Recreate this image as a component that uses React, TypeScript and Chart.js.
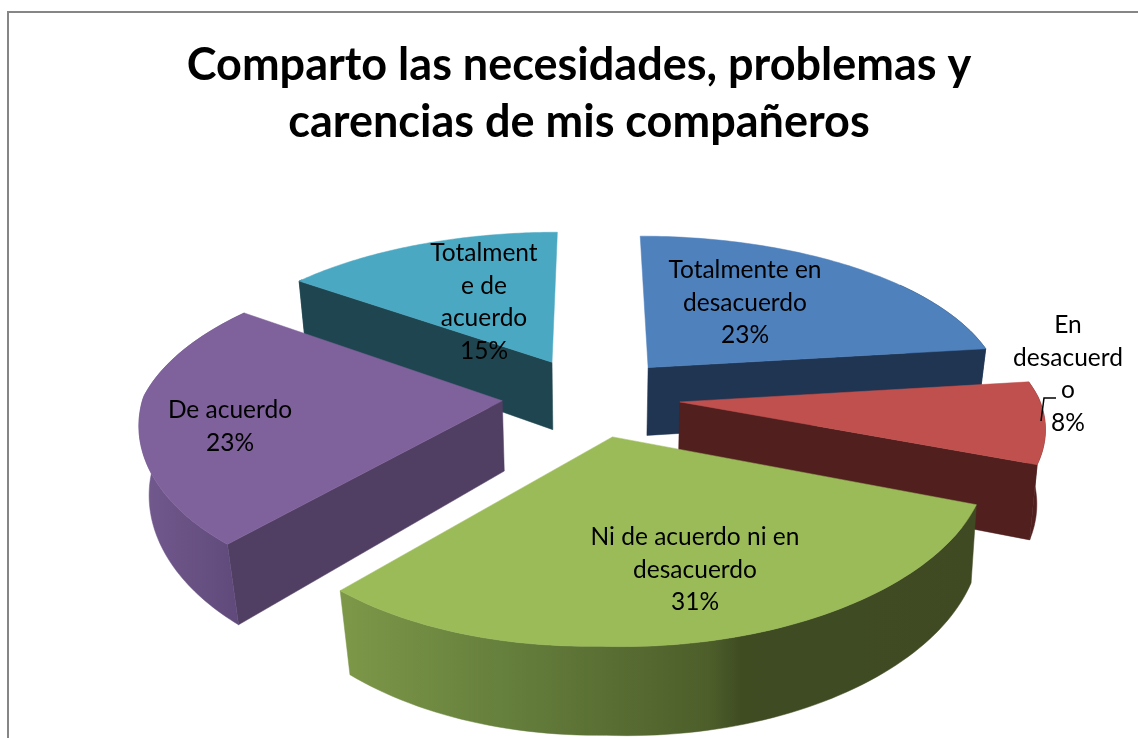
import React, { useEffect, useRef } from "react";
import { Chart, registerables } from "chart.js";

Chart.register(...registerables);

const categories = [
  "Totalmente en desacuerdo",
  "En desacuerdo",
  "Ni de acuerdo ni en desacuerdo",
  "De acuerdo",
  "Totalmente de acuerdo",
];
const percentages = [23, 8, 31, 23, 15];
const topColors = ["#4f81bd", "#c0504d", "#9bbb59", "#7f619b", "#4ba8c2"];
const faceColors = ["#1f3552", "#511f1e", "#3f4c22", "#503f63", "#1f4650"];
const wallStops: [number, string][][] = [
  [[0, "#1f3552"], [1, "#1f3552"]],
  [[0, "#511f1e"], [1, "#511f1e"]],
  [[0, "#3f4a22"], [0.37, "#3f4c22"], [0.42, "#4d5e2a"], [0.75, "#66803d"], [1, "#7d9848"]],
  [[0, "#5d4878"], [0.6, "#6a5285"], [1, "#725a90"]],
  [[0, "#1f4650"], [1, "#1f4650"]],
];
const labelLines = [
  ["Totalmente en", "desacuerdo", "23%"],
  ["En", "desacuerd", "o", "8%"],
  ["Ni de acuerdo ni en", "desacuerdo", "31%"],
  ["De acuerdo", "23%"],
  ["Totalment", "e de", "acuerdo", "15%"],
];
const titleLines = ["Comparto las necesidades, problemas y", "carencias de mis compañeros"];
const drawOrder = [4, 0, 3, 1, 2];

const CX = 591, CY = 397, KY = 0.00048, DEPTH = 70, SHRINK = 0.0003;
const labelAnchors = [[745, 270], [1068, 325], [695, 537], [230, 410], [484, 253]];

function project(X: number, Y: number, z: number) {
  const sx = 1 / (1 - Y * (Y < 0 ? 0.00046 : 0.00034));
  const sy = 1 / (1 - Y * KY);
  const tilt = Y < 0 ? 0.455 : 0.44;
  const front = Math.max(Y, 0);
  return {
    x: CX + X * sx * (1 - z * SHRINK) + front * 0.017 + z * front * 0.00018,
    y: CY + Y * tilt * sy + front * Math.max(-X, 0) * 0.00012 + z * sy,
  };
}

const pie3d = {
  id: "pie3d",
  beforeDatasetDraw(chart: any) {
    const ctx: CanvasRenderingContext2D = chart.ctx;
    const arcs = chart.getDatasetMeta(0).data;
    ctx.save();
    for (const i of drawOrder) {
      const arc = arcs[i];
      const { startAngle, endAngle, outerRadius } = arc.getProps(["startAngle", "endAngle", "outerRadius"], true);
      const R = outerRadius;
      const mid = (startAngle + endAngle) / 2;
      const off = arc.options.offset;
      const ox = Math.cos(mid) * off, oy = Math.sin(mid) * off;
      const pt = (a: number, r: number, z: number) => project(ox + Math.cos(a) * r, oy + Math.sin(a) * r, z);
      const steps = 80;
      const angles: number[] = [];
      for (let n = 0; n <= steps; n++) angles.push(startAngle + ((endAngle - startAngle) * n) / steps);

      const poly = (pts: { x: number; y: number }[], fill: any) => {
        ctx.beginPath();
        pts.forEach((p, n) => (n ? ctx.lineTo(p.x, p.y) : ctx.moveTo(p.x, p.y)));
        ctx.closePath();
        ctx.fillStyle = fill;
        ctx.fill();
        ctx.strokeStyle = fill;
        ctx.lineWidth = 0.5;
        ctx.stroke();
      };

      // radial faces that look towards the viewer
      if (-Math.cos(startAngle) > 0.01) {
        poly([pt(startAngle, 0, 0), pt(startAngle, R, 0), pt(startAngle, R, DEPTH), pt(startAngle, 0, DEPTH)], faceColors[i]);
      }
      if (Math.cos(endAngle) > 0.01) {
        poly([pt(endAngle, 0, 0), pt(endAngle, R, 0), pt(endAngle, R, DEPTH), pt(endAngle, 0, DEPTH)], faceColors[i]);
      }
      // outer rim, front part only
      const front = angles.filter((a) => Math.sin(a) > -0.6);
      if (front.length > 1) {
        const rimTop = front.map((a) => pt(a, R, 0));
        const rimBottom = front.map((a) => pt(a, R, DEPTH));
        const xs = rimTop.concat(rimBottom).map((p) => p.x);
        const grad = ctx.createLinearGradient(Math.max(...xs), 0, Math.min(...xs), 0);
        wallStops[i].forEach(([o, c]) => grad.addColorStop(o, c));
        poly(rimTop.concat(rimBottom.slice().reverse()), grad);
      }
      poly([pt(0, 0, 0), ...angles.map((a) => pt(a, R, 0))], topColors[i]);
    }

    // leader line of the small slice
    ctx.beginPath();
    ctx.moveTo(1041, 421);
    ctx.lineTo(1044, 398);
    ctx.lineTo(1056, 398);
    ctx.strokeStyle = "#000";
    ctx.lineWidth = 1.5;
    ctx.stroke();

    ctx.fillStyle = "#000";
    ctx.textAlign = "center";
    ctx.textBaseline = "middle";
    ctx.font = "24.5px Lato";
    labelLines.forEach((lines, i) => {
      lines.forEach((line, n) => {
        ctx.fillText(line, labelAnchors[i][0], labelAnchors[i][1] + n * 32.7);
      });
    });
    ctx.restore();
    return false;
  },
};

export default function App() {
  const ref = useRef<HTMLCanvasElement>(null);
  useEffect(() => {
    const chart = new Chart(ref.current!, {
      type: "pie",
      data: {
        labels: categories,
        datasets: [{ data: percentages, backgroundColor: topColors, offset: 89, borderWidth: 0 }],
      },
      options: {
        animation: false,
        responsive: false,
        radius: 359,
        layout: { padding: { left: 20, top: 37 } },
        plugins: {
          legend: { display: false },
          tooltip: { enabled: false },
          title: {
            display: true,
            text: titleLines,
            color: "#000",
            font: { family: "Lato", size: 45, weight: "bold", lineHeight: 1.27 },
            padding: 0,
          },
        },
      },
      plugins: [pie3d],
    } as any);
    return () => chart.destroy();
  }, []);
  return (
    <div style={{ position: "absolute", left: 0, top: 0, width: 1138, height: 738, overflow: "hidden", background: "#fff" }}>
      <div style={{ position: "absolute", left: 7, top: 11, right: 0, bottom: 0, borderTop: "2px solid #868686", borderLeft: "2px solid #868686" }} />
      <canvas ref={ref} width={1138} height={738} style={{ position: "absolute", left: 0, top: 0 }} />
    </div>
  );
}
